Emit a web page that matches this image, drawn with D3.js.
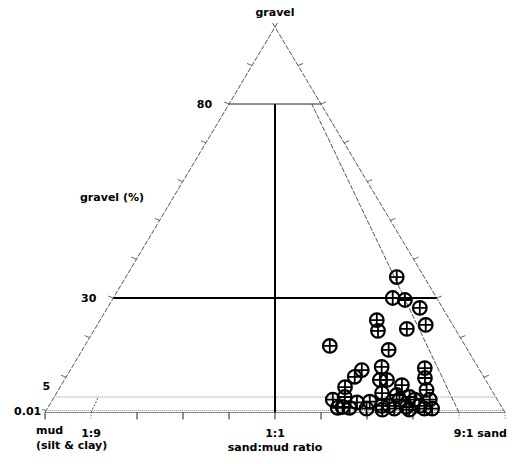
<!DOCTYPE html>
<html>
<head>
<meta charset="utf-8">
<script src="https://cdn.jsdelivr.net/npm/d3@7"></script>
<style>
  body { margin: 0; background: #fff; }
  text { font-family: "DejaVu Sans", sans-serif; font-weight: bold; font-size: 11px; fill: #000; }
</style>
</head>
<body>
<div class="chart"></div>
<script>
// samples: gravel % and sand fraction of the sand+mud part
var gravelPct = [35.4, 30, 29.5, 27.5, 24.4, 21.7, 22.2, 23.2, 17.9, 16.9,
  11.8, 10.1, 12.6, 9.3, 12.3, 9.8, 7.5, 9.3, 8.0, 6.8,
  6.0, 4.0, 5.0, 1.3, 3.0, 3.3, 0.7, 1.7, 5.0, 4.0,
  4.0, 1.7, 1.3, 1.7, 0.7, 0.3, 0.7, 1.0, 4.0, 5.5,
  1.0, 0.7, 0.3];
var sandFrac = [0.908, 0.864, 0.899, 0.932, 0.791, 0.784, 0.866, 0.924, 0.644, 0.795,
  0.712, 0.691, 0.763, 0.749, 0.868, 0.858, 0.663, 0.766, 0.797, 0.850,
  0.745, 0.630, 0.658, 0.649, 0.683, 0.712, 0.701, 0.736, 0.805, 0.780,
  0.848, 0.753, 0.790, 0.819, 0.845, 0.735, 0.762, 0.664, 0.814, 0.777,
  0.638, 0.828, 0.794];

var gravelLevels = [0.01, 5, 30, 80];
var gravelLabels = ['0.01', '5', '30', '80'];
var gravelTicks = [10, 20, 30, 40, 50, 60, 70, 80, 90];
var ratioTicks = [0, 0.1, 0.2, 0.3, 0.4, 0.5, 0.6, 0.7, 0.8, 0.9, 1];
var ratioLabels = [{ r: 0.1, t: '1:9' }, { r: 0.5, t: '1:1' }];

var width = 514, height = 464;
var svg = d3.select('.chart').append('svg')
  .attr('width', width)
  .attr('height', height);

// gravel axis is stretched near the base, like the original plot
var yG = d3.scaleLinear()
  .domain([0, 0.01, 5, 30, 80, 100])
  .range([412.5, 410.5, 397, 298, 104, 27]);
var xR = d3.scaleLinear().domain([0, 1]).range([45, 505]);
var apexY = yG(100), baseY = yG(0), cx = xR(0.5);

function pos(g, r) {
  var y = yG(g);
  var t = (y - apexY) / (baseY - apexY);
  return [cx + (xR(r) - cx) * t, y];
}

function seg(a, b, stroke, sw, dash) {
  svg.append('line')
    .attr('x1', a[0]).attr('y1', a[1])
    .attr('x2', b[0]).attr('y2', b[1])
    .style('stroke', stroke)
    .style('stroke-width', sw)
    .style('stroke-dasharray', dash || null);
}

// triangle edges, crossing a little above the apex
var L = pos(0, 0), R = pos(0, 1), A = pos(100, 0.5);
function extend(p, q, d) {
  var dx = q[0] - p[0], dy = q[1] - p[1], len = Math.sqrt(dx * dx + dy * dy);
  return [q[0] + dx / len * d, q[1] + dy / len * d];
}
seg(L, extend(L, A, 6), '#555', 1, '5,1.5');
seg(R, extend(R, A, 6), '#555', 1, '5,1.5');
seg(L, R, '#888', 1);

// class boundaries
seg(pos(80, 0), pos(80, 1), '#222', 1);
seg(pos(30, 0), pos(30, 1), '#000', 2);
seg(pos(5, 0), pos(5, 1), '#888', 1, '1,1');
seg(pos(0.01, 0), pos(0.01, 1), '#888', 1, '1,1');
seg(pos(0, 0.5), pos(80, 0.5), '#000', 2);
seg(pos(0, 0.9), pos(80, 0.9), '#555', 1, '5,1.5');
seg(pos(0, 0.1), pos(5, 0.1), '#555', 1, '2,1.5');

// ticks along the base
ratioTicks.forEach(function (r) {
  var p = pos(0, r);
  var dotted = (r === 0.1 || r === 0.9 || r === 1);
  seg([p[0], baseY], [p[0], baseY + 7], dotted ? '#777' : '#222', 1, dotted ? '1,1.5' : null);
});

// ticks along both sides
gravelTicks.forEach(function (g) {
  var pl = pos(g, 0), pr = pos(g, 1);
  seg([pl[0] - 5, pl[1] - 2], pl, '#666', 1);
  seg(pr, [pr[0] + 5, pr[1] - 2], '#666', 1);
});
seg([pos(0.01, 0)[0] - 4, pos(0.01, 0)[1] - 1], pos(0.01, 0), '#666', 1);

// gravel level labels
gravelLevels.forEach(function (g, i) {
  var p = pos(g, 0);
  var t = svg.append('text').text(gravelLabels[i]).attr('text-anchor', 'end');
  if (g === 5) t.attr('x', p[0] - 4).attr('y', p[1] - 7);
  else if (g === 0.01) t.attr('x', p[0] - 5).attr('y', p[1] + 4);
  else t.attr('x', p[0] - 17).attr('y', p[1] + 4);
});

svg.append('text').text('gravel').attr('x', cx).attr('y', 16).attr('text-anchor', 'middle');
svg.append('text').text('gravel (%)').attr('x', 80).attr('y', 201);
svg.append('text').text('mud').attr('x', 36).attr('y', 434);
svg.append('text').text('(silt & clay)').attr('x', 36).attr('y', 449);
ratioLabels.forEach(function (d) {
  svg.append('text').text(d.t).attr('x', xR(d.r)).attr('y', 437).attr('text-anchor', 'middle');
});
svg.append('text').text('9:1 sand').attr('x', 507).attr('y', 437).attr('text-anchor', 'end');
svg.append('text').text('sand:mud ratio').attr('x', cx).attr('y', 451).attr('text-anchor', 'middle');

// sample markers: circle with cross
var pts = gravelPct.map(function (g, i) { return pos(g, sandFrac[i]); });
var mk = svg.selectAll('.mk')
  .data(pts)
  .enter()
  .append('g')
  .attr('class', 'mk')
  .attr('transform', d => `translate(${d[0]}, ${d[1]})`);
mk.append('circle')
  .attr('r', 6.8)
  .style('fill', 'none')
  .style('stroke', '#000')
  .style('stroke-width', 2.2);
mk.append('path')
  .attr('d', 'M-6.8,0H6.8M0,-6.8V6.8')
  .style('stroke', '#000')
  .style('stroke-width', 1.8);
</script>
</body>
</html>
